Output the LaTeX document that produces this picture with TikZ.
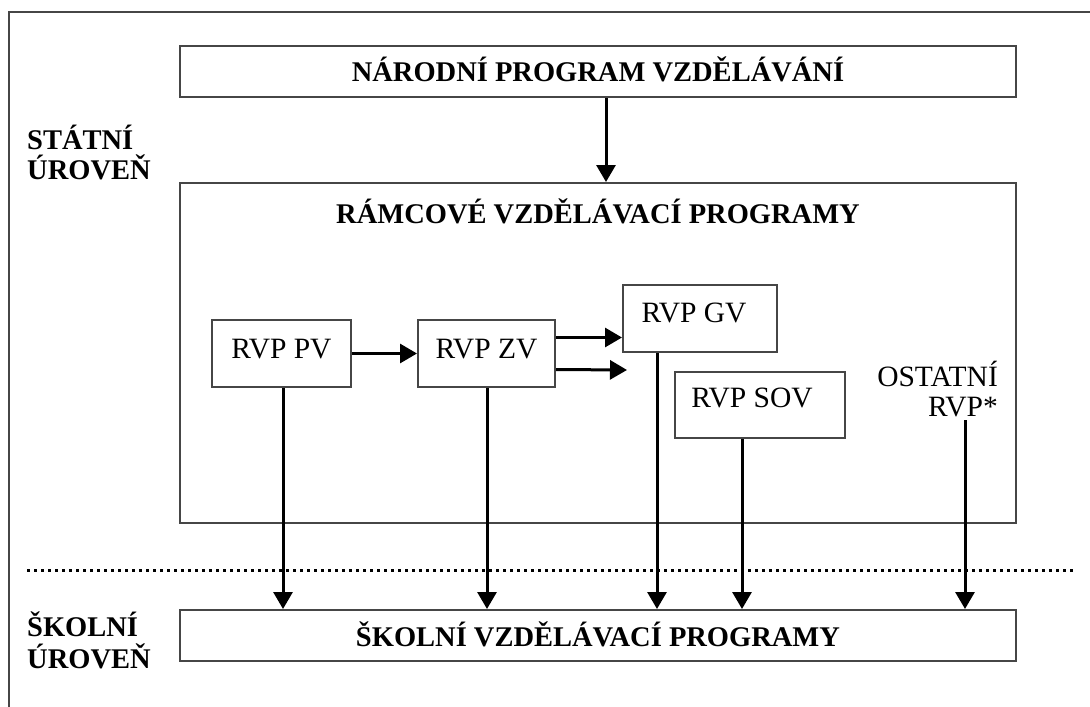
\documentclass[tikz,border=0pt]{standalone}
\usepackage{fontspec}
\setmainfont{Liberation Serif}
\usetikzlibrary{arrows.meta,calc}
\definecolor{boxgray}{RGB}{70,70,70}
\begin{document}
\begin{tikzpicture}[x=1pt,y=-1pt,
  box/.style={draw=boxgray,line width=2pt,rectangle,inner sep=0pt,fill=white},
  bigtext/.style={font=\fontsize{28.5}{30}\selectfont\bfseries},
  smalltext/.style={font=\fontsize{29.5}{30}\selectfont},
  lvl/.style={font=\fontsize{28.5}{30}\selectfont\bfseries,align=left,anchor=north west,inner sep=0pt},
  arr/.style={line width=3pt,-{Triangle[length=17pt,width=19pt]}},
  dotline/.style={line width=3pt,dash pattern=on 3pt off 4pt}
]
\useasboundingbox (0,0) rectangle (1090,707);
% outer frame (top and left only)
\draw[boxgray,line width=2pt] (1090,12) -- (9,12) -- (9,707);

% main boxes
\node[box,minimum width=836pt,minimum height=51pt] (npv) at (598,71.5) {};
\node[bigtext] at ([yshift=2pt]npv.center) {NÁRODNÍ PROGRAM VZDĚLÁVÁNÍ};
\node[box,minimum width=836pt,minimum height=340pt] (rvp) at (598,353) {};
\node[bigtext] (rvptitle) at (598,211) {RÁMCOVÉ VZDĚLÁVACÍ PROGRAMY};
\node[box,minimum width=836pt,minimum height=51pt] (svp) at (598,635.5) {};
\node[bigtext] at ([yshift=1pt]svp.center) {ŠKOLNÍ VZDĚLÁVACÍ PROGRAMY};

% level labels
\node[lvl] (statni) at (27,125) {STÁTNÍ\\ÚROVEŇ};
\node[lvl] (skolni) at (27,612) {ŠKOLNÍ\\[2pt]ÚROVEŇ};

% inner boxes
\node[box,minimum width=139pt,minimum height=67pt] (pv) at (281.5,353.5) {};
\node[smalltext] at ([yshift=4pt]pv.center) {RVP PV};
\node[box,minimum width=137pt,minimum height=67pt] (zv) at (486.5,353.5) {};
\node[smalltext] at ([yshift=4pt]zv.center) {RVP ZV};
\node[box,minimum width=154pt,minimum height=67pt] (gv) at (700,318.5) {};
\node[smalltext] at ([xshift=-6pt,yshift=6pt]gv.center) {RVP GV};
\node[box,minimum width=170pt,minimum height=66pt] (sov) at (760,405) {};
\node[smalltext] at ([xshift=-8pt,yshift=7pt]sov.center) {RVP SOV};
\node[smalltext,align=right,anchor=north east,inner sep=0pt] (ost) at (998,361) {OSTATNÍ\\RVP*};
\coordinate (ostbot) at (965,420);
\coordinate (zvfree) at (627,370);

% dotted separator
\coordinate (dl) at (27,570);
\coordinate (dr) at (1076,570);
\draw[dotline] (dl) -- (dr);

% arrows
\draw[arr] ($(npv.south)+(8,0)$) -- ($(rvp.north)+(8,0)$);
\draw[arr] (pv.east) -- (zv.west);
\draw[arr] ([yshift=16pt]zv.east) -- ([yshift=16pt]zv.east -| gv.west);
\draw[arr] ([yshift=-16pt]zv.east) -- (zvfree);
\draw[arr] ([xshift=1.5pt]pv.south) -- ([xshift=1.5pt]pv.south |- svp.north);
\draw[arr] ([xshift=0.5pt]zv.south) -- ([xshift=0.5pt]zv.south |- svp.north);
\draw[arr] ([xshift=-43pt]gv.south) -- ([xshift=-43pt]gv.south |- svp.north);
\draw[arr] ([xshift=-18pt]sov.south) -- ([xshift=-18pt]sov.south |- svp.north);
\draw[arr] (ostbot) -- (ostbot |- svp.north);
\end{tikzpicture}
\end{document}
